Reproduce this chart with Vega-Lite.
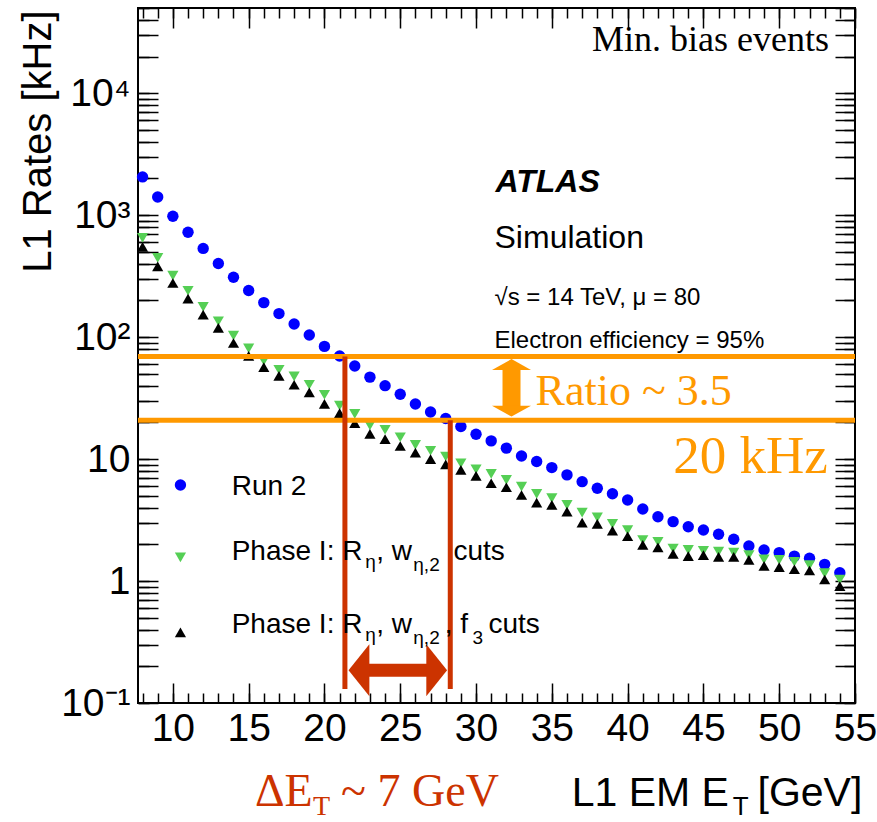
{
  "$schema": "https://vega.github.io/schema/vega-lite/v6.json",
  "width": 717,
  "height": 695,
  "autosize": {"type": "none"},
  "padding": {"left": 138, "top": 8, "right": 22, "bottom": 119},
  "background": "white",
  "config": {
    "view": {"stroke": "black", "strokeWidth": 2},
    "axis": {"grid": false, "domain": false, "tickColor": "black", "tickWidth": 1.5, "labelFont": "Liberation Sans", "labelColor": "black", "labelFontSize": 39, "labelFlush": false, "labelOverlap": false}
  },
  "resolve": {"scale": {"x": "shared", "y": "shared"}, "axis": {"x": "independent", "y": "independent"}},
  "layer": [
    {
      "data": {"values": [
        {"x": 8, "y": 2060}, {"x": 9, "y": 1410}, {"x": 10, "y": 980}, {"x": 11, "y": 725}, {"x": 12, "y": 534},
        {"x": 13, "y": 402}, {"x": 14, "y": 310}, {"x": 15, "y": 241}, {"x": 16, "y": 192}, {"x": 17, "y": 156},
        {"x": 18, "y": 128}, {"x": 19, "y": 104}, {"x": 20, "y": 84}, {"x": 21, "y": 70}, {"x": 22, "y": 58},
        {"x": 23, "y": 47}, {"x": 24, "y": 40}, {"x": 25, "y": 34}, {"x": 26, "y": 28.3}, {"x": 27, "y": 24.3},
        {"x": 28, "y": 21.5}, {"x": 29, "y": 18.5}, {"x": 30, "y": 16.0}, {"x": 31, "y": 14.1}, {"x": 32, "y": 12.3},
        {"x": 33, "y": 10.6}, {"x": 34, "y": 9.55}, {"x": 35, "y": 8.52}, {"x": 36, "y": 7.42}, {"x": 37, "y": 6.53},
        {"x": 38, "y": 5.77}, {"x": 39, "y": 5.2}, {"x": 40, "y": 4.62}, {"x": 41, "y": 3.9}, {"x": 42, "y": 3.37},
        {"x": 43, "y": 3.07}, {"x": 44, "y": 2.79}, {"x": 45, "y": 2.62}, {"x": 46, "y": 2.42}, {"x": 47, "y": 2.2},
        {"x": 48, "y": 1.94}, {"x": 49, "y": 1.8}, {"x": 50, "y": 1.71}, {"x": 51, "y": 1.6}, {"x": 52, "y": 1.54},
        {"x": 53, "y": 1.37}, {"x": 54, "y": 1.17}
      ]},
      "mark": {"type": "point", "shape": "circle", "filled": true, "color": "#0000ff", "size": 130, "opacity": 1, "strokeWidth": 0},
      "encoding": {
        "x": {"field": "x", "type": "quantitative", "scale": {"domain": [7.7, 55], "nice": false, "zero": false},
          "axis": {"orient": "bottom", "values": [10, 15, 20, 25, 30, 35, 40, 45, 50, 55], "ticks": false, "labelPadding": 6, "format": "d", "title": null}},
        "y": {"field": "y", "type": "quantitative", "scale": {"type": "log", "domain": [0.1, 50000], "nice": false},
          "axis": {"orient": "left", "values": [0.1, 1, 10, 100, 1000, 10000], "ticks": false, "labelPadding": 8, "labelBaseline": "middle",
            "labelExpr": "datum.value > 5000 ? '10⁴' : datum.value > 500 ? '10³' : datum.value > 50 ? '10²' : datum.value > 5 ? '10' : datum.value > 0.5 ? '1' : '10⁻¹'",
            "title": "L1 Rates [kHz]", "titleFont": "Liberation Sans", "titleFontSize": 40, "titleFontWeight": "normal", "titleColor": "black",
            "titleAngle": -90, "titleAlign": "right", "titleBaseline": "alphabetic", "titleX": -88, "titleY": 2}}
      }
    },
    {
      "data": {"values": [
        {"x": 8, "y": 651}, {"x": 9, "y": 446}, {"x": 10, "y": 319}, {"x": 11, "y": 240}, {"x": 12, "y": 177},
        {"x": 13, "y": 135}, {"x": 14, "y": 103}, {"x": 15, "y": 81}, {"x": 16, "y": 64}, {"x": 17, "y": 54},
        {"x": 18, "y": 47.6}, {"x": 19, "y": 40.7}, {"x": 20, "y": 33.7}, {"x": 21, "y": 27.4}, {"x": 22, "y": 23.5},
        {"x": 23, "y": 18.9}, {"x": 24, "y": 17.4}, {"x": 25, "y": 15.1}, {"x": 26, "y": 13.1}, {"x": 27, "y": 11.7},
        {"x": 28, "y": 10.5}, {"x": 29, "y": 9.25}, {"x": 30, "y": 8.26}, {"x": 31, "y": 7.56}, {"x": 32, "y": 6.75},
        {"x": 33, "y": 5.95}, {"x": 34, "y": 5.18}, {"x": 35, "y": 4.78}, {"x": 36, "y": 4.21}, {"x": 37, "y": 3.64},
        {"x": 38, "y": 3.33}, {"x": 39, "y": 2.94}, {"x": 40, "y": 2.62}, {"x": 41, "y": 2.17}, {"x": 42, "y": 2.1},
        {"x": 43, "y": 1.85}, {"x": 44, "y": 1.8}, {"x": 45, "y": 1.77}, {"x": 46, "y": 1.74}, {"x": 47, "y": 1.71},
        {"x": 48, "y": 1.63}, {"x": 49, "y": 1.51}, {"x": 50, "y": 1.49}, {"x": 51, "y": 1.44}, {"x": 52, "y": 1.35},
        {"x": 53, "y": 1.16}, {"x": 54, "y": 1.03}
      ]},
      "mark": {"type": "point", "shape": "triangle-down", "filled": true, "color": "#55cf55", "size": 125, "opacity": 1, "strokeWidth": 0},
      "encoding": {
        "x": {"field": "x", "type": "quantitative", "scale": {"domain": [7.7, 55], "nice": false, "zero": false},
          "axis": {"orient": "top", "offset": -695, "tickCount": 10, "tickSize": 20, "labels": false, "title": null}},
        "y": {"field": "y", "type": "quantitative", "scale": {"type": "log", "domain": [0.1, 50000], "nice": false},
          "axis": {"orient": "right", "offset": -717, "tickCount": 6, "tickSize": 20, "labels": false, "title": null}}
      }
    },
    {
      "data": {"values": [
        {"x": 8, "y": 549}, {"x": 9, "y": 381}, {"x": 10, "y": 278}, {"x": 11, "y": 207}, {"x": 12, "y": 153},
        {"x": 13, "y": 119}, {"x": 14, "y": 89.5}, {"x": 15, "y": 70.3}, {"x": 16, "y": 56.8}, {"x": 17, "y": 48.2},
        {"x": 18, "y": 40.7}, {"x": 19, "y": 35.2}, {"x": 20, "y": 28.4}, {"x": 21, "y": 23.8}, {"x": 22, "y": 19.7},
        {"x": 23, "y": 16.1}, {"x": 24, "y": 14.6}, {"x": 25, "y": 12.8}, {"x": 26, "y": 11.3}, {"x": 27, "y": 10.0},
        {"x": 28, "y": 9.05}, {"x": 29, "y": 8.15}, {"x": 30, "y": 7.28}, {"x": 31, "y": 6.34}, {"x": 32, "y": 5.88},
        {"x": 33, "y": 5.08}, {"x": 34, "y": 4.39}, {"x": 35, "y": 4.21}, {"x": 36, "y": 3.71}, {"x": 37, "y": 3.01},
        {"x": 38, "y": 2.94}, {"x": 39, "y": 2.59}, {"x": 40, "y": 2.33}, {"x": 41, "y": 1.98}, {"x": 42, "y": 1.89},
        {"x": 43, "y": 1.67}, {"x": 44, "y": 1.6}, {"x": 45, "y": 1.63}, {"x": 46, "y": 1.58}, {"x": 47, "y": 1.58},
        {"x": 48, "y": 1.49}, {"x": 49, "y": 1.33}, {"x": 50, "y": 1.3}, {"x": 51, "y": 1.25}, {"x": 52, "y": 1.22},
        {"x": 53, "y": 1.03}, {"x": 54, "y": 0.91}
      ]},
      "mark": {"type": "point", "shape": "triangle-up", "filled": true, "color": "#000000", "size": 125, "opacity": 1, "strokeWidth": 0},
      "encoding": {
        "x": {"field": "x", "type": "quantitative", "scale": {"domain": [7.7, 55], "nice": false, "zero": false},
          "axis": {"orient": "top", "offset": -695, "tickCount": 48, "tickSize": 10, "labels": false, "title": null}},
        "y": {"field": "y", "type": "quantitative", "scale": {"type": "log", "domain": [0.1, 50000], "nice": false},
          "axis": {"orient": "right", "offset": -717, "tickCount": 50, "tickSize": 11, "labels": false, "title": null}}
      }
    },
    {
      "data": {"values": [{"y": 69.5}, {"y": 20.8}]},
      "mark": {"type": "rule", "color": "#ff9900", "strokeWidth": 5},
      "encoding": {
        "y": {"field": "y", "type": "quantitative", "scale": {"type": "log", "domain": [0.1, 50000], "nice": false}, "axis": null}
      }
    },
    {
      "data": {"values": [{"x": 21.35, "y": 0.13, "y2": 69.5}, {"x": 28.3, "y": 0.13, "y2": 20.8}]},
      "mark": {"type": "rule", "color": "#cc3300", "strokeWidth": 5},
      "encoding": {
        "x": {"field": "x", "type": "quantitative", "scale": {"domain": [7.7, 55], "nice": false, "zero": false},
          "axis": {"orient": "bottom", "offset": -695, "tickCount": 10, "tickSize": 20, "labels": false, "title": null}},
        "y": {"field": "y", "type": "quantitative", "scale": {"type": "log", "domain": [0.1, 50000], "nice": false},
          "axis": {"orient": "left", "offset": -717, "tickCount": 6, "tickSize": 20, "labels": false, "title": null}},
        "y2": {"field": "y2"}
      }
    },
    {
      "data": {"values": [{"x": 22.7, "x2": 27.0, "y": 0.1859}]},
      "mark": {"type": "rule", "color": "#cc3300", "strokeWidth": 13},
      "encoding": {
        "x": {"field": "x", "type": "quantitative", "scale": {"domain": [7.7, 55], "nice": false, "zero": false},
          "axis": {"orient": "bottom", "offset": -695, "tickCount": 48, "tickSize": 10, "labels": false, "title": null}},
        "x2": {"field": "x2"},
        "y": {"field": "y", "type": "quantitative", "scale": {"type": "log", "domain": [0.1, 50000], "nice": false},
          "axis": {"orient": "left", "offset": -717, "tickCount": 50, "tickSize": 11, "labels": false, "title": null}}
      }
    },
    {
      "data": {"values": [{"x": 21.59, "y": 0.1859}]},
      "mark": {"type": "point", "shape": "M 0 0 L 0.8 -1 L 0.8 1 Z", "filled": true, "color": "#cc3300", "size": 2704, "opacity": 1, "strokeWidth": 0},
      "encoding": {
        "x": {"field": "x", "type": "quantitative", "scale": {"domain": [7.7, 55], "nice": false, "zero": false}, "axis": null},
        "y": {"field": "y", "type": "quantitative", "scale": {"type": "log", "domain": [0.1, 50000], "nice": false}, "axis": null}
      }
    },
    {
      "data": {"values": [{"x": 28.09, "y": 0.1859}]},
      "mark": {"type": "point", "shape": "M 0 0 L -0.8 -1 L -0.8 1 Z", "filled": true, "color": "#cc3300", "size": 2704, "opacity": 1, "strokeWidth": 0},
      "encoding": {
        "x": {"field": "x", "type": "quantitative", "scale": {"domain": [7.7, 55], "nice": false, "zero": false}, "axis": null},
        "y": {"field": "y", "type": "quantitative", "scale": {"type": "log", "domain": [0.1, 50000], "nice": false}, "axis": null}
      }
    },
    {
      "data": {"values": [{"x": 32.34, "y": 56.1, "y2": 26.3}]},
      "mark": {"type": "rule", "color": "#ff9900", "strokeWidth": 18},
      "encoding": {
        "x": {"field": "x", "type": "quantitative", "scale": {"domain": [7.7, 55], "nice": false, "zero": false}, "axis": null},
        "y": {"field": "y", "type": "quantitative", "scale": {"type": "log", "domain": [0.1, 50000], "nice": false}, "axis": null},
        "y2": {"field": "y2"}
      }
    },
    {
      "data": {"values": [{"x": 32.34, "y": 66.1}]},
      "mark": {"type": "point", "shape": "M 0 0 L -1 0.56 L 1 0.56 Z", "filled": true, "color": "#ff9900", "size": 1521, "opacity": 1, "strokeWidth": 0},
      "encoding": {
        "x": {"field": "x", "type": "quantitative", "scale": {"domain": [7.7, 55], "nice": false, "zero": false}, "axis": null},
        "y": {"field": "y", "type": "quantitative", "scale": {"type": "log", "domain": [0.1, 50000], "nice": false}, "axis": null}
      }
    },
    {
      "data": {"values": [{"x": 32.34, "y": 22.3}]},
      "mark": {"type": "point", "shape": "M 0 0 L -1 -0.56 L 1 -0.56 Z", "filled": true, "color": "#ff9900", "size": 1521, "opacity": 1, "strokeWidth": 0},
      "encoding": {
        "x": {"field": "x", "type": "quantitative", "scale": {"domain": [7.7, 55], "nice": false, "zero": false}, "axis": null},
        "y": {"field": "y", "type": "quantitative", "scale": {"type": "log", "domain": [0.1, 50000], "nice": false}, "axis": null}
      }
    },
    {
      "data": {"values": [{"x": 10.5, "y": 6.14}]},
      "mark": {"type": "point", "shape": "circle", "filled": true, "color": "#0000ff", "size": 130, "opacity": 1, "strokeWidth": 0},
      "encoding": {
        "x": {"field": "x", "type": "quantitative", "scale": {"domain": [7.7, 55], "nice": false, "zero": false}, "axis": null},
        "y": {"field": "y", "type": "quantitative", "scale": {"type": "log", "domain": [0.1, 50000], "nice": false}, "axis": null}
      }
    },
    {
      "data": {"values": [{"x": 10.5, "y": 1.566}]},
      "mark": {"type": "point", "shape": "triangle-down", "filled": true, "color": "#55cf55", "size": 125, "opacity": 1, "strokeWidth": 0},
      "encoding": {
        "x": {"field": "x", "type": "quantitative", "scale": {"domain": [7.7, 55], "nice": false, "zero": false}, "axis": null},
        "y": {"field": "y", "type": "quantitative", "scale": {"type": "log", "domain": [0.1, 50000], "nice": false}, "axis": null}
      }
    },
    {
      "data": {"values": [{"x": 10.5, "y": 0.379}]},
      "mark": {"type": "point", "shape": "triangle-up", "filled": true, "color": "#000000", "size": 125, "opacity": 1, "strokeWidth": 0},
      "encoding": {
        "x": {"field": "x", "type": "quantitative", "scale": {"domain": [7.7, 55], "nice": false, "zero": false}, "axis": null},
        "y": {"field": "y", "type": "quantitative", "scale": {"type": "log", "domain": [0.1, 50000], "nice": false}, "axis": null}
      }
    },
    {
      "data": {"values": [
        {"x": 13.88, "y": 5.08, "label": "Run 2"},
        {"x": 13.88, "y": 1.487, "label": "Phase I: R"},
        {"x": 23.42, "y": 1.487, "label": ", w"},
        {"x": 28.51, "y": 1.487, "label": "cuts"},
        {"x": 13.88, "y": 0.372, "label": "Phase I: R"},
        {"x": 23.42, "y": 0.372, "label": ", w"},
        {"x": 27.94, "y": 0.372, "label": ", f"},
        {"x": 30.82, "y": 0.372, "label": "cuts"}
      ]},
      "mark": {"type": "text", "font": "Liberation Sans", "fontSize": 28, "align": "left", "baseline": "alphabetic", "color": "black"},
      "encoding": {
        "x": {"field": "x", "type": "quantitative", "scale": {"domain": [7.7, 55], "nice": false, "zero": false}, "axis": null},
        "y": {"field": "y", "type": "quantitative", "scale": {"type": "log", "domain": [0.1, 50000], "nice": false}, "axis": null},
        "text": {"field": "label"}
      }
    },
    {
      "data": {"values": [
        {"x": 22.69, "y": 1.279, "label": "η"},
        {"x": 25.86, "y": 1.208, "label": "η,2"},
        {"x": 22.69, "y": 0.3217, "label": "η"},
        {"x": 25.86, "y": 0.304, "label": "η,2"},
        {"x": 29.76, "y": 0.304, "label": "3"}
      ]},
      "mark": {"type": "text", "font": "Liberation Sans", "fontSize": 19, "align": "left", "baseline": "alphabetic", "color": "black"},
      "encoding": {
        "x": {"field": "x", "type": "quantitative", "scale": {"domain": [7.7, 55], "nice": false, "zero": false}, "axis": null},
        "y": {"field": "y", "type": "quantitative", "scale": {"type": "log", "domain": [0.1, 50000], "nice": false}, "axis": null},
        "text": {"field": "label"}
      }
    },
    {
      "data": {"values": [{"x": 31.28, "y": 1542, "label": "ATLAS"}]},
      "mark": {"type": "text", "font": "Liberation Sans", "fontSize": 32, "fontWeight": "bold", "fontStyle": "italic", "align": "left", "baseline": "alphabetic", "color": "black"},
      "encoding": {
        "x": {"field": "x", "type": "quantitative", "scale": {"domain": [7.7, 55], "nice": false, "zero": false}, "axis": null},
        "y": {"field": "y", "type": "quantitative", "scale": {"type": "log", "domain": [0.1, 50000], "nice": false}, "axis": null},
        "text": {"field": "label"}
      }
    },
    {
      "data": {"values": [{"x": 31.22, "y": 539, "label": "Simulation"}]},
      "mark": {"type": "text", "font": "Liberation Sans", "fontSize": 32, "align": "left", "baseline": "alphabetic", "color": "black"},
      "encoding": {
        "x": {"field": "x", "type": "quantitative", "scale": {"domain": [7.7, 55], "nice": false, "zero": false}, "axis": null},
        "y": {"field": "y", "type": "quantitative", "scale": {"type": "log", "domain": [0.1, 50000], "nice": false}, "axis": null},
        "text": {"field": "label"}
      }
    },
    {
      "data": {"values": [
        {"x": 31.22, "y": 184.5, "label": "√s = 14 TeV, μ = 80"},
        {"x": 31.22, "y": 81.4, "label": "Electron efficiency = 95%"}
      ]},
      "mark": {"type": "text", "font": "Liberation Sans", "fontSize": 24, "align": "left", "baseline": "alphabetic", "color": "black"},
      "encoding": {
        "x": {"field": "x", "type": "quantitative", "scale": {"domain": [7.7, 55], "nice": false, "zero": false}, "axis": null},
        "y": {"field": "y", "type": "quantitative", "scale": {"type": "log", "domain": [0.1, 50000], "nice": false}, "axis": null},
        "text": {"field": "label"}
      }
    },
    {
      "data": {"values": [{"x": 53.29, "y": 22030, "label": "Min. bias events"}]},
      "mark": {"type": "text", "font": "Liberation Serif", "fontSize": 36, "align": "right", "baseline": "alphabetic", "color": "black"},
      "encoding": {
        "x": {"field": "x", "type": "quantitative", "scale": {"domain": [7.7, 55], "nice": false, "zero": false}, "axis": null},
        "y": {"field": "y", "type": "quantitative", "scale": {"type": "log", "domain": [0.1, 50000], "nice": false}, "axis": null},
        "text": {"field": "label"}
      }
    },
    {
      "data": {"values": [{"x": 33.93, "y": 27.9, "label": "Ratio ~ 3.5"}]},
      "mark": {"type": "text", "font": "Liberation Serif", "fontSize": 44, "align": "left", "baseline": "alphabetic", "color": "#ff9900"},
      "encoding": {
        "x": {"field": "x", "type": "quantitative", "scale": {"domain": [7.7, 55], "nice": false, "zero": false}, "axis": null},
        "y": {"field": "y", "type": "quantitative", "scale": {"type": "log", "domain": [0.1, 50000], "nice": false}, "axis": null},
        "text": {"field": "label"}
      }
    },
    {
      "data": {"values": [{"x": 53.2, "y": 7.66, "label": "20 kHz"}]},
      "mark": {"type": "text", "font": "Liberation Serif", "fontSize": 53, "align": "right", "baseline": "alphabetic", "color": "#ff9900"},
      "encoding": {
        "x": {"field": "x", "type": "quantitative", "scale": {"domain": [7.7, 55], "nice": false, "zero": false}, "axis": null},
        "y": {"field": "y", "type": "quantitative", "scale": {"type": "log", "domain": [0.1, 50000], "nice": false}, "axis": null},
        "text": {"field": "label"}
      }
    },
    {
      "data": {"values": [
        {"x": 15.42, "y": 0.01422, "label": "ΔE"},
        {"x": 21.1, "y": 0.01422, "label": "~ 7 GeV"}
      ]},
      "mark": {"type": "text", "font": "Liberation Serif", "fontSize": 46, "align": "left", "baseline": "alphabetic", "color": "#cc3300"},
      "encoding": {
        "x": {"field": "x", "type": "quantitative", "scale": {"domain": [7.7, 55], "nice": false, "zero": false}, "axis": null},
        "y": {"field": "y", "type": "quantitative", "scale": {"type": "log", "domain": [0.1, 50000], "nice": false}, "axis": null},
        "text": {"field": "label"}
      }
    },
    {
      "data": {"values": [{"x": 19.25, "y": 0.012, "label": "T"}]},
      "mark": {"type": "text", "font": "Liberation Serif", "fontSize": 28, "align": "left", "baseline": "alphabetic", "color": "#cc3300"},
      "encoding": {
        "x": {"field": "x", "type": "quantitative", "scale": {"domain": [7.7, 55], "nice": false, "zero": false}, "axis": null},
        "y": {"field": "y", "type": "quantitative", "scale": {"type": "log", "domain": [0.1, 50000], "nice": false}, "axis": null},
        "text": {"field": "label"}
      }
    },
    {
      "data": {"values": [
        {"x": 36.31, "y": 0.01422, "label": "L1 EM E"},
        {"x": 48.57, "y": 0.01422, "label": "[GeV]"}
      ]},
      "mark": {"type": "text", "font": "Liberation Sans", "fontSize": 41, "align": "left", "baseline": "alphabetic", "color": "black"},
      "encoding": {
        "x": {"field": "x", "type": "quantitative", "scale": {"domain": [7.7, 55], "nice": false, "zero": false}, "axis": null},
        "y": {"field": "y", "type": "quantitative", "scale": {"type": "log", "domain": [0.1, 50000], "nice": false}, "axis": null},
        "text": {"field": "label"}
      }
    },
    {
      "data": {"values": [{"x": 46.94, "y": 0.012, "label": "T"}]},
      "mark": {"type": "text", "font": "Liberation Sans", "fontSize": 26, "align": "left", "baseline": "alphabetic", "color": "black"},
      "encoding": {
        "x": {"field": "x", "type": "quantitative", "scale": {"domain": [7.7, 55], "nice": false, "zero": false}, "axis": null},
        "y": {"field": "y", "type": "quantitative", "scale": {"type": "log", "domain": [0.1, 50000], "nice": false}, "axis": null},
        "text": {"field": "label"}
      }
    }
  ]
}
